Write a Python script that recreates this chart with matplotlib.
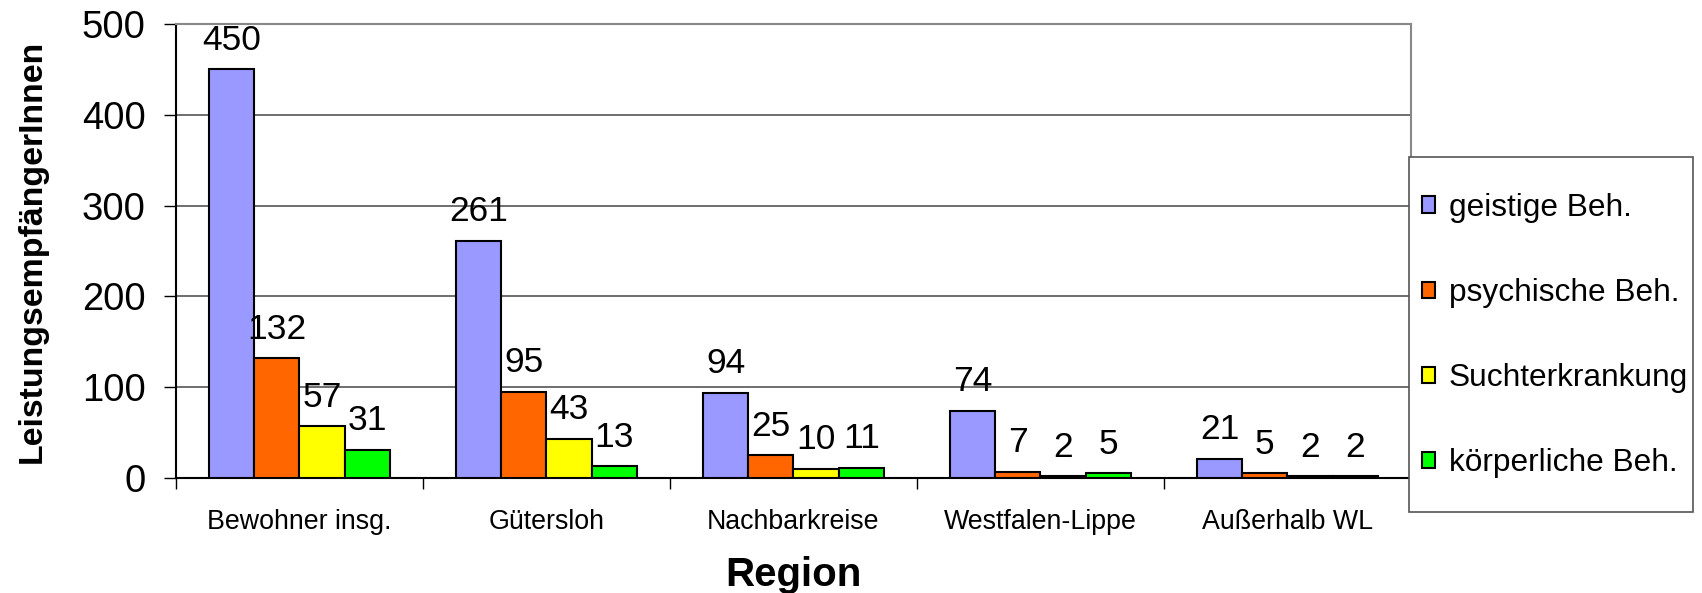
import numpy as np
from matplotlib import pyplot as plt
from matplotlib.patches import Rectangle

plt.rcParams['font.family'] = ['Liberation Sans', 'DejaVu Sans']

regions = ["Bewohner insg.", "Gütersloh", "Nachbarkreise", "Westfalen-Lippe", "Außerhalb WL"]
series_names = ["geistige Beh.", "psychische Beh.", "Suchterkrankung", "körperliche Beh."]
geistige = [450, 261, 94, 74, 21]
psychische = [132, 95, 25, 7, 5]
sucht = [57, 43, 10, 2, 2]
koerperliche = [31, 13, 11, 5, 2]
colors = ["#9999FF", "#FF6600", "#FFFF00", "#00FF00"]

fig = plt.figure(figsize=(17.02, 5.93), dpi=100)
ax = fig.add_axes([0.1034, 0.194, 0.7256, 0.7656])

x = np.arange(len(regions))
width = 0.183
all_series = [geistige, psychische, sucht, koerperliche]
for i, (vals, name, col) in enumerate(zip(all_series, series_names, colors)):
    offs = (i - 1.5) * width
    bars = ax.bar(x + offs, vals, width, color=col, edgecolor="black", linewidth=1.5,
                  label=name, zorder=3)
    for b, v in zip(bars, vals):
        ax.annotate(str(v), (b.get_x() + b.get_width() / 2, v), xytext=(0, 9),
                    textcoords="offset points", ha="center", va="bottom", fontsize=25.5)

ax.set_xlim(-0.5, len(regions) - 0.5)
ax.set_ylim(0, 500)
ax.set_yticks(range(0, 501, 100))
ax.tick_params(axis="y", labelsize=27.5, length=9, width=1, direction="out", pad=13)
ax.set_xticks(x)
ax.set_xticklabels(regions, fontsize=19.3)
ax.tick_params(axis="x", length=0, pad=22)
ax.set_xticks(np.arange(-0.5, len(regions), 1), minor=True)
ax.tick_params(axis="x", which="minor", length=8, width=1, direction="out")

ax.grid(axis="y", color="#555555", linewidth=1.2, zorder=0)
for s in ["top", "right"]:
    ax.spines[s].set_color("#888888")
    ax.spines[s].set_linewidth(1.5)
for s in ["left", "bottom"]:
    ax.spines[s].set_color("black")
    ax.spines[s].set_linewidth(1.5)

ax.set_ylabel("LeistungsempfängerInnen", fontsize=24.4, fontweight="bold")
ax.yaxis.set_label_coords(-0.104, 0.5)
ax.set_xlabel("Region", fontsize=29, fontweight="bold")
ax.xaxis.set_label_coords(0.5, -0.172)

# legend box drawn separately so the padding can match
fig.patches.append(Rectangle((1409 / 1702, 1 - 512 / 593), 284 / 1702, 355 / 593,
                             transform=fig.transFigure, facecolor="white",
                             edgecolor="#555555", linewidth=1.2, zorder=1))
leg = fig.legend(loc="center left", bbox_to_anchor=(1422 / 1702, 0.434), fontsize=22.8,
                 frameon=False, handlelength=0.42, handleheight=0.42, handletextpad=0.42,
                 labelspacing=1.74, borderpad=0, borderaxespad=0)
leg.set_zorder(2)

fig.savefig("out.png", dpi=100)
